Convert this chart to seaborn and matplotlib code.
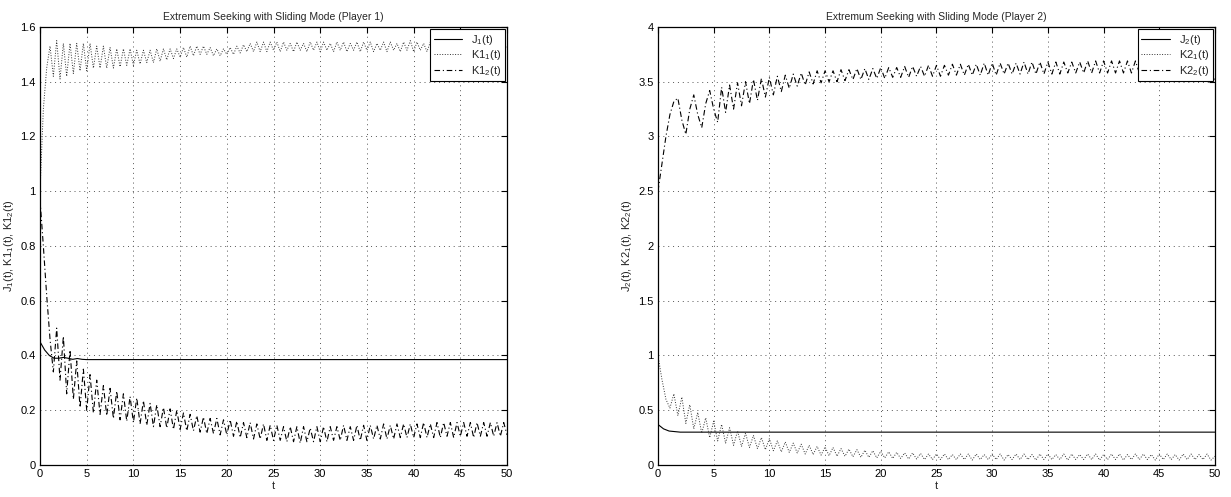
import numpy as np
import matplotlib
matplotlib.use("Agg")
import matplotlib.pyplot as plt
from matplotlib.ticker import FuncFormatter, MultipleLocator
import seaborn as sns

# ---- data: oscillating gains sampled 140 times over 0..50 s (14 samples per 5 s) ----
T_END = 50.0

k1_1 = [1.00, 1.30, 1.45, 1.53, 1.42, 1.55, 1.41, 1.54, 1.42, 1.54, 1.43, 1.54, 1.44, 1.54,
        1.44, 1.54, 1.45, 1.53, 1.45, 1.53, 1.45, 1.525, 1.45, 1.52, 1.455, 1.52, 1.46, 1.52,
        1.46, 1.515, 1.465, 1.515, 1.47, 1.515, 1.47, 1.52, 1.475, 1.52, 1.48, 1.52, 1.485, 1.52,
        1.49, 1.525, 1.49, 1.53, 1.495, 1.53, 1.50, 1.53, 1.50, 1.525, 1.495, 1.52, 1.495, 1.52,
        1.50, 1.525, 1.50, 1.53, 1.505, 1.535, 1.51, 1.54, 1.51, 1.545, 1.51, 1.545, 1.51, 1.545,
        1.515, 1.545, 1.51, 1.545, 1.515, 1.54, 1.51, 1.545, 1.515, 1.54, 1.51, 1.545, 1.515, 1.545,
        1.51, 1.545, 1.515, 1.54, 1.51, 1.545, 1.515, 1.545, 1.51, 1.54, 1.515, 1.545, 1.51, 1.545,
        1.515, 1.545, 1.51, 1.54, 1.515, 1.545, 1.51, 1.545, 1.515, 1.54, 1.51, 1.545, 1.515, 1.55,
        1.51, 1.545, 1.515, 1.54, 1.51, 1.545, 1.515, 1.545, 1.51, 1.54, 1.515, 1.545, 1.51, 1.545,
        1.515, 1.545, 1.51, 1.54, 1.515, 1.545, 1.51, 1.545, 1.515, 1.54, 1.51, 1.545, 1.50, 1.54,
        1.52]

k1_2 = [0.97, 0.80, 0.62, 0.46, 0.34, 0.50, 0.31, 0.47, 0.26, 0.42, 0.24, 0.38, 0.21, 0.35,
        0.20, 0.33, 0.19, 0.31, 0.185, 0.29, 0.18, 0.28, 0.17, 0.27, 0.165, 0.26, 0.16, 0.25,
        0.155, 0.245, 0.15, 0.235, 0.145, 0.225, 0.14, 0.22, 0.14, 0.21, 0.135, 0.205, 0.13, 0.20,
        0.13, 0.19, 0.125, 0.185, 0.125, 0.18, 0.12, 0.175, 0.115, 0.17, 0.115, 0.17, 0.11, 0.165,
        0.11, 0.165, 0.105, 0.16, 0.10, 0.155, 0.10, 0.155, 0.095, 0.15, 0.095, 0.15, 0.09, 0.145,
        0.09, 0.145, 0.09, 0.14, 0.085, 0.14, 0.085, 0.14, 0.08, 0.14, 0.085, 0.135, 0.085, 0.14,
        0.085, 0.14, 0.085, 0.14, 0.09, 0.14, 0.09, 0.145, 0.09, 0.14, 0.09, 0.145, 0.09, 0.145,
        0.09, 0.145, 0.095, 0.145, 0.095, 0.15, 0.095, 0.145, 0.095, 0.15, 0.10, 0.15, 0.10, 0.15,
        0.10, 0.15, 0.10, 0.155, 0.10, 0.15, 0.10, 0.155, 0.10, 0.155, 0.105, 0.155, 0.10, 0.155,
        0.105, 0.155, 0.105, 0.155, 0.10, 0.155, 0.105, 0.155, 0.105, 0.155, 0.105, 0.155, 0.105, 0.155,
        0.11]

k2_1 = [1.00, 0.78, 0.60, 0.52, 0.65, 0.45, 0.62, 0.38, 0.55, 0.33, 0.48, 0.29, 0.43, 0.25,
        0.40, 0.22, 0.37, 0.20, 0.34, 0.18, 0.31, 0.17, 0.29, 0.16, 0.27, 0.15, 0.25, 0.14,
        0.24, 0.13, 0.22, 0.12, 0.21, 0.115, 0.20, 0.11, 0.19, 0.10, 0.18, 0.095, 0.17, 0.09,
        0.165, 0.085, 0.16, 0.08, 0.15, 0.08, 0.145, 0.075, 0.14, 0.07, 0.135, 0.07, 0.13, 0.065,
        0.125, 0.065, 0.12, 0.06, 0.115, 0.06, 0.11, 0.055, 0.11, 0.055, 0.105, 0.05, 0.10, 0.05,
        0.10, 0.05, 0.10, 0.05, 0.095, 0.05, 0.10, 0.05, 0.10, 0.045, 0.10, 0.05, 0.095, 0.05,
        0.10, 0.05, 0.10, 0.045, 0.095, 0.05, 0.10, 0.05, 0.10, 0.05, 0.095, 0.045, 0.10, 0.05,
        0.10, 0.05, 0.095, 0.05, 0.10, 0.045, 0.10, 0.05, 0.095, 0.05, 0.10, 0.05, 0.10, 0.045,
        0.095, 0.05, 0.10, 0.05, 0.10, 0.045, 0.095, 0.05, 0.10, 0.05, 0.10, 0.05, 0.095, 0.045,
        0.10, 0.05, 0.10, 0.05, 0.095, 0.045, 0.10, 0.05, 0.10, 0.05, 0.095, 0.05, 0.10, 0.045,
        0.08]

k2_2 = [2.50, 2.75, 3.00, 3.20, 3.32, 3.35, 3.15, 3.02, 3.25, 3.38, 3.20, 3.08, 3.30, 3.42,
        3.25, 3.13, 3.45, 3.22, 3.47, 3.25, 3.49, 3.28, 3.50, 3.30, 3.52, 3.33, 3.53, 3.36,
        3.54, 3.38, 3.55, 3.41, 3.56, 3.44, 3.57, 3.46, 3.58, 3.47, 3.59, 3.48, 3.60, 3.49,
        3.60, 3.50, 3.60, 3.50, 3.61, 3.51, 3.61, 3.52, 3.62, 3.52, 3.62, 3.52, 3.62, 3.53,
        3.63, 3.53, 3.63, 3.54, 3.63, 3.54, 3.64, 3.54, 3.64, 3.55, 3.64, 3.55, 3.65, 3.55,
        3.65, 3.55, 3.65, 3.56, 3.66, 3.56, 3.66, 3.56, 3.66, 3.56, 3.66, 3.56, 3.67, 3.56,
        3.67, 3.56, 3.67, 3.57, 3.67, 3.57, 3.67, 3.57, 3.68, 3.57, 3.68, 3.57, 3.68, 3.57,
        3.68, 3.57, 3.68, 3.57, 3.68, 3.58, 3.68, 3.58, 3.68, 3.58, 3.69, 3.58, 3.69, 3.58,
        3.69, 3.58, 3.69, 3.58, 3.69, 3.58, 3.69, 3.58, 3.69, 3.58, 3.69, 3.58, 3.69, 3.58,
        3.69, 3.58, 3.69, 3.58, 3.69, 3.58, 3.69, 3.58, 3.69, 3.58, 3.69, 3.58, 3.69, 3.58,
        3.52]

# smooth cost signals, given at their own time stamps
j1_t = [0, 0.5, 1.0, 1.5, 2.0, 2.5, 3.0, 3.5, 4.0, 4.5, 5.0, 50]
j1 = [0.45, 0.42, 0.40, 0.39, 0.39, 0.393, 0.39, 0.386, 0.389, 0.386, 0.385, 0.385]
j2_t = [0, 0.5, 1.0, 1.5, 2.0, 3.0, 50]
j2 = [0.37, 0.33, 0.31, 0.305, 0.30, 0.30, 0.30]

titles = ["Extremum Seeking with Sliding Mode (Player 1)",
          "Extremum Seeking with Sliding Mode (Player 2)"]
ylabels = [r"J$_1$(t), K1$_1$(t), K1$_2$(t)", r"J$_2$(t), K2$_1$(t), K2$_2$(t)"]
legend_labels = [[r"J$_1$(t)", r"K1$_1$(t)", r"K1$_2$(t)"],
                 [r"J$_2$(t)", r"K2$_1$(t)", r"K2$_2$(t)"]]
y_limits = [(0, 1.6), (0, 4)]
y_steps = [0.2, 0.5]

sns.set_theme(style="white")
plt.rcParams["font.family"] = ["Liberation Sans", "DejaVu Sans"]
plt.rcParams["mathtext.default"] = "regular"
plt.rcParams["font.size"] = 8

fig = plt.figure(figsize=(12.31, 4.97), dpi=100)
ax1 = fig.add_axes([0.0325, 0.0644, 0.3794, 0.8813])
ax2 = fig.add_axes([0.5345, 0.0644, 0.4525, 0.8813])

panels = [
    (ax1, j1_t, j1, k1_1, k1_2),
    (ax2, j2_t, j2, k2_1, k2_2),
]

for i, (ax, jt, jv, ka, kb) in enumerate(panels):
    tk = np.linspace(0, T_END, len(ka))
    tb = np.linspace(0, T_END, len(kb))
    labs = legend_labels[i]
    sns.lineplot(x=jt, y=jv, ax=ax, color="black", lw=0.8, ls="-", label=labs[0])
    sns.lineplot(x=tk, y=ka, ax=ax, color="#333333", lw=0.7, ls=":", label=labs[1])
    sns.lineplot(x=tb, y=kb, ax=ax, color="black", lw=0.8,
                 ls=(0, (5, 2.5, 1, 2.5)), label=labs[2])

    ax.set_xlim(0, 50)
    ax.set_ylim(*y_limits[i])
    ax.xaxis.set_major_locator(MultipleLocator(5))
    ax.yaxis.set_major_locator(MultipleLocator(y_steps[i]))
    ax.yaxis.set_major_formatter(FuncFormatter(lambda v, p: f"{v:g}"))
    ax.grid(True, color="#555555", ls=(0, (1, 4)), lw=0.7)
    ax.tick_params(direction="in", length=4, width=0.8, labelsize=8,
                   top=True, right=True, pad=3, colors="black")
    for s in ax.spines.values():
        s.set_visible(True)
        s.set_color("black")
        s.set_linewidth(0.9)
    ax.set_title(titles[i], fontsize=7.5, pad=5)
    ax.set_xlabel("t", fontsize=8, labelpad=1)
    ax.set_ylabel(ylabels[i], fontsize=8, labelpad=3)
    leg = ax.legend(loc="upper right", fontsize=8, frameon=True, fancybox=False,
                    handlelength=2.6, borderpad=0.3, labelspacing=0.15,
                    borderaxespad=0.2, handletextpad=0.8)
    leg.get_frame().set_edgecolor("black")
    leg.get_frame().set_linewidth(0.8)
    leg.get_frame().set_alpha(1)

fig.savefig("out.png", dpi=100, facecolor="white")
